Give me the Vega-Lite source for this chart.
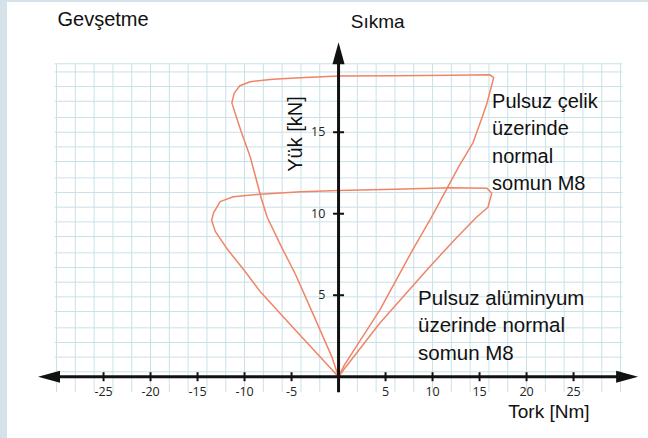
{
  "$schema": "https://vega.github.io/schema/vega-lite/v6.json",
  "width": 641,
  "height": 436,
  "autosize": {"type": "none"},
  "padding": {"left": 7, "top": 2, "right": 0, "bottom": 0},
  "background": "#d6e2ea",
  "config": {"view": {"fill": "white", "stroke": null}},
  "datasets": {
    "vgrid": [
      {"x": -30}, {"x": -28}, {"x": -26}, {"x": -24}, {"x": -22}, {"x": -20}, {"x": -18}, {"x": -16},
      {"x": -14}, {"x": -12}, {"x": -10}, {"x": -8}, {"x": -6}, {"x": -4}, {"x": -2}, {"x": 0},
      {"x": 2}, {"x": 4}, {"x": 6}, {"x": 8}, {"x": 10}, {"x": 12}, {"x": 14}, {"x": 16},
      {"x": 18}, {"x": 20}, {"x": 22}, {"x": 24}, {"x": 26}, {"x": 28}, {"x": 30}
    ],
    "hgrid": [
      {"y": 19.2}, {"y": 18.7}, {"y": 17.8}, {"y": 16.9}, {"y": 15.9}, {"y": 15.0}, {"y": 14.1},
      {"y": 13.2}, {"y": 12.2}, {"y": 11.3}, {"y": 10.4}, {"y": 9.5}, {"y": 8.6}, {"y": 7.6},
      {"y": 6.7}, {"y": 5.8}, {"y": 4.9}, {"y": 4.0}, {"y": 3.0}, {"y": 2.1}, {"y": 1.2}, {"y": 0.3}
    ],
    "curves": [
      {"s": "steel", "o": 0, "x": 0, "y": 0},
      {"s": "steel", "o": 1, "x": 0.6, "y": 0.7},
      {"s": "steel", "o": 2, "x": 4.4, "y": 4.1},
      {"s": "steel", "o": 3, "x": 7.9, "y": 7.8},
      {"s": "steel", "o": 4, "x": 9.8, "y": 9.7},
      {"s": "steel", "o": 5, "x": 11.3, "y": 11.3},
      {"s": "steel", "o": 6, "x": 12.8, "y": 12.9},
      {"s": "steel", "o": 7, "x": 14.3, "y": 14.35},
      {"s": "steel", "o": 8, "x": 15.2, "y": 15.8},
      {"s": "steel", "o": 9, "x": 15.8, "y": 16.8},
      {"s": "steel", "o": 10, "x": 16.3, "y": 17.9},
      {"s": "steel", "o": 11, "x": 16.5, "y": 18.35},
      {"s": "steel", "o": 12, "x": 16.1, "y": 18.52},
      {"s": "steel", "o": 13, "x": 12, "y": 18.5},
      {"s": "steel", "o": 14, "x": 6, "y": 18.47},
      {"s": "steel", "o": 15, "x": 0, "y": 18.45},
      {"s": "steel", "o": 16, "x": -4.1, "y": 18.35},
      {"s": "steel", "o": 17, "x": -7, "y": 18.25},
      {"s": "steel", "o": 18, "x": -9.4, "y": 18.1},
      {"s": "steel", "o": 19, "x": -10.5, "y": 17.85},
      {"s": "steel", "o": 20, "x": -11.1, "y": 17.4},
      {"s": "steel", "o": 21, "x": -11.35, "y": 16.8},
      {"s": "steel", "o": 22, "x": -10.4, "y": 15.1},
      {"s": "steel", "o": 23, "x": -9.4, "y": 13.5},
      {"s": "steel", "o": 24, "x": -8.2, "y": 10.9},
      {"s": "steel", "o": 25, "x": -7.6, "y": 9.8},
      {"s": "steel", "o": 26, "x": -6.1, "y": 8.0},
      {"s": "steel", "o": 27, "x": -4.6, "y": 6.3},
      {"s": "steel", "o": 28, "x": -2.6, "y": 3.7},
      {"s": "steel", "o": 29, "x": -0.7, "y": 1.2},
      {"s": "steel", "o": 30, "x": 0, "y": 0},
      {"s": "alu", "o": 0, "x": 0, "y": 0},
      {"s": "alu", "o": 1, "x": 0.5, "y": 0.4},
      {"s": "alu", "o": 2, "x": 4.4, "y": 3.3},
      {"s": "alu", "o": 3, "x": 9.7, "y": 6.75},
      {"s": "alu", "o": 4, "x": 12.5, "y": 8.5},
      {"s": "alu", "o": 5, "x": 14.7, "y": 9.8},
      {"s": "alu", "o": 6, "x": 15.9, "y": 10.4},
      {"s": "alu", "o": 7, "x": 16.1, "y": 10.84},
      {"s": "alu", "o": 8, "x": 16.3, "y": 11.25},
      {"s": "alu", "o": 9, "x": 15.8, "y": 11.56},
      {"s": "alu", "o": 10, "x": 12, "y": 11.6},
      {"s": "alu", "o": 11, "x": 6, "y": 11.5},
      {"s": "alu", "o": 12, "x": 0, "y": 11.42},
      {"s": "alu", "o": 13, "x": -4, "y": 11.35},
      {"s": "alu", "o": 14, "x": -8.35, "y": 11.2},
      {"s": "alu", "o": 15, "x": -11.2, "y": 11.04},
      {"s": "alu", "o": 16, "x": -12.6, "y": 10.74},
      {"s": "alu", "o": 17, "x": -13.3, "y": 10.05},
      {"s": "alu", "o": 18, "x": -13.5, "y": 9.6},
      {"s": "alu", "o": 19, "x": -13.1, "y": 8.9},
      {"s": "alu", "o": 20, "x": -11.8, "y": 7.8},
      {"s": "alu", "o": 21, "x": -10, "y": 6.5},
      {"s": "alu", "o": 22, "x": -8.2, "y": 5.13},
      {"s": "alu", "o": 23, "x": -4.6, "y": 2.87},
      {"s": "alu", "o": 24, "x": -0.4, "y": 0.25},
      {"s": "alu", "o": 25, "x": 0, "y": 0}
    ],
    "xticks": [
      {"x": -25, "label": "-25"}, {"x": -20, "label": "-20"}, {"x": -15, "label": "-15"},
      {"x": -10, "label": "-10"}, {"x": -5, "label": "-5"}, {"x": 5, "label": "5"},
      {"x": 10, "label": "10"}, {"x": 15, "label": "15"}, {"x": 20, "label": "20"}, {"x": 25, "label": "25"}
    ],
    "yticks": [
      {"y": 5, "label": "5"}, {"y": 10, "label": "10"}, {"y": 15, "label": "15"}
    ]
  },
  "layer": [
    {
      "data": {"name": "vgrid"},
      "mark": {"type": "rule", "color": "#c9e1e8", "strokeWidth": 1},
      "encoding": {
        "x": {"field": "x", "type": "quantitative", "scale": {"domain": [-35.27, 32.92], "nice": false, "zero": false}, "axis": null},
        "y": {"datum": -0.95, "type": "quantitative", "scale": {"domain": [-3.76, 22.99], "nice": false, "zero": false}, "axis": null},
        "y2": {"datum": 19.2}
      }
    },
    {
      "data": {"name": "hgrid"},
      "mark": {"type": "rule", "color": "#c9e1e8", "strokeWidth": 1},
      "encoding": {
        "x": {"datum": -30.2, "type": "quantitative", "scale": {"domain": [-35.27, 32.92], "nice": false, "zero": false}, "axis": null},
        "x2": {"datum": 30.2},
        "y": {"field": "y", "type": "quantitative", "scale": {"domain": [-3.76, 22.99], "nice": false, "zero": false}, "axis": null}
      }
    },
    {
      "data": {"name": "curves"},
      "mark": {"type": "line", "color": "#f08466", "strokeWidth": 1.5, "strokeJoin": "round"},
      "encoding": {
        "x": {"field": "x", "type": "quantitative", "scale": {"domain": [-35.27, 32.92], "nice": false, "zero": false}, "axis": null},
        "y": {"field": "y", "type": "quantitative", "scale": {"domain": [-3.76, 22.99], "nice": false, "zero": false}, "axis": null},
        "order": {"field": "o", "type": "quantitative"},
        "detail": {"field": "s"}
      }
    },
    {
      "data": {"values": [{}]},
      "mark": {"type": "rule", "color": "#111111", "strokeWidth": 3},
      "encoding": {
        "x": {"datum": -30.8, "type": "quantitative", "scale": {"domain": [-35.27, 32.92], "nice": false, "zero": false}, "axis": null},
        "x2": {"datum": 30.7},
        "y": {"datum": 0, "type": "quantitative", "scale": {"domain": [-3.76, 22.99], "nice": false, "zero": false}, "axis": null}
      }
    },
    {
      "data": {"values": [{}]},
      "mark": {"type": "rule", "color": "#111111", "strokeWidth": 3},
      "encoding": {
        "x": {"datum": 0, "type": "quantitative", "scale": {"domain": [-35.27, 32.92], "nice": false, "zero": false}, "axis": null},
        "y": {"datum": -0.95, "type": "quantitative", "scale": {"domain": [-3.76, 22.99], "nice": false, "zero": false}, "axis": null},
        "y2": {"datum": 19.85}
      }
    },
    {
      "data": {"values": [{}]},
      "mark": {"type": "point", "shape": "M0,-1L0.55,1L-0.55,1Z", "size": 484, "filled": true, "color": "#111111", "opacity": 1},
      "encoding": {
        "x": {"datum": 0, "type": "quantitative", "scale": {"domain": [-35.27, 32.92], "nice": false, "zero": false}, "axis": null},
        "y": {"datum": 19.85, "type": "quantitative", "scale": {"domain": [-3.76, 22.99], "nice": false, "zero": false}, "axis": null}
      }
    },
    {
      "data": {"values": [{}]},
      "mark": {"type": "point", "shape": "M-1,0L1,-0.55L1,0.55Z", "size": 484, "filled": true, "color": "#111111", "opacity": 1},
      "encoding": {
        "x": {"datum": -30.8, "type": "quantitative", "scale": {"domain": [-35.27, 32.92], "nice": false, "zero": false}, "axis": null},
        "y": {"datum": 0, "type": "quantitative", "scale": {"domain": [-3.76, 22.99], "nice": false, "zero": false}, "axis": null}
      }
    },
    {
      "data": {"values": [{}]},
      "mark": {"type": "point", "shape": "M1,0L-1,-0.55L-1,0.55Z", "size": 484, "filled": true, "color": "#111111", "opacity": 1},
      "encoding": {
        "x": {"datum": 30.7, "type": "quantitative", "scale": {"domain": [-35.27, 32.92], "nice": false, "zero": false}, "axis": null},
        "y": {"datum": 0, "type": "quantitative", "scale": {"domain": [-3.76, 22.99], "nice": false, "zero": false}, "axis": null}
      }
    },
    {
      "data": {"name": "xticks"},
      "mark": {"type": "tick", "orient": "vertical", "size": 9, "thickness": 2, "color": "#111111", "opacity": 1},
      "encoding": {
        "x": {"field": "x", "type": "quantitative", "scale": {"domain": [-35.27, 32.92], "nice": false, "zero": false}, "axis": null},
        "y": {"datum": 0, "type": "quantitative", "scale": {"domain": [-3.76, 22.99], "nice": false, "zero": false}, "axis": null}
      }
    },
    {
      "data": {"name": "yticks"},
      "mark": {"type": "tick", "orient": "horizontal", "size": 11, "thickness": 2, "color": "#111111", "opacity": 1},
      "encoding": {
        "x": {"datum": 0, "type": "quantitative", "scale": {"domain": [-35.27, 32.92], "nice": false, "zero": false}, "axis": null},
        "y": {"field": "y", "type": "quantitative", "scale": {"domain": [-3.76, 22.99], "nice": false, "zero": false}, "axis": null}
      }
    },
    {
      "data": {"name": "xticks"},
      "mark": {"type": "text", "font": "Open Sans", "fontSize": 12.5, "color": "#222222", "align": "center", "baseline": "middle"},
      "encoding": {
        "x": {"field": "x", "type": "quantitative", "scale": {"domain": [-35.27, 32.92], "nice": false, "zero": false}, "axis": null},
        "y": {"datum": -0.95, "type": "quantitative", "scale": {"domain": [-3.76, 22.99], "nice": false, "zero": false}, "axis": null},
        "text": {"field": "label"}
      }
    },
    {
      "data": {"name": "yticks"},
      "mark": {"type": "text", "font": "Open Sans", "fontSize": 12.5, "color": "#222222", "align": "right", "baseline": "middle"},
      "encoding": {
        "x": {"datum": -1.4, "type": "quantitative", "scale": {"domain": [-35.27, 32.92], "nice": false, "zero": false}, "axis": null},
        "y": {"field": "y", "type": "quantitative", "scale": {"domain": [-3.76, 22.99], "nice": false, "zero": false}, "axis": null},
        "text": {"field": "label"}
      }
    },
    {
      "data": {"values": [{}]},
      "mark": {"type": "text", "text": "Gevşetme", "font": "Liberation Sans", "fontSize": 20, "color": "#111111", "align": "left", "baseline": "alphabetic"},
      "encoding": {
        "x": {"datum": -29.9, "type": "quantitative", "scale": {"domain": [-35.27, 32.92], "nice": false, "zero": false}, "axis": null},
        "y": {"datum": 21.5, "type": "quantitative", "scale": {"domain": [-3.76, 22.99], "nice": false, "zero": false}, "axis": null}
      }
    },
    {
      "data": {"values": [{}]},
      "mark": {"type": "text", "text": "Sıkma", "font": "Liberation Sans", "fontSize": 19, "color": "#111111", "align": "left", "baseline": "alphabetic"},
      "encoding": {
        "x": {"datum": 1.3, "type": "quantitative", "scale": {"domain": [-35.27, 32.92], "nice": false, "zero": false}, "axis": null},
        "y": {"datum": 21.4, "type": "quantitative", "scale": {"domain": [-3.76, 22.99], "nice": false, "zero": false}, "axis": null}
      }
    },
    {
      "data": {"values": [{}]},
      "mark": {"type": "text", "text": "Yük [kN]", "font": "Liberation Sans", "fontSize": 20, "color": "#111111", "align": "center", "baseline": "middle", "angle": 270},
      "encoding": {
        "x": {"datum": -4.5, "type": "quantitative", "scale": {"domain": [-35.27, 32.92], "nice": false, "zero": false}, "axis": null},
        "y": {"datum": 14.89, "type": "quantitative", "scale": {"domain": [-3.76, 22.99], "nice": false, "zero": false}, "axis": null}
      }
    },
    {
      "data": {"values": [{}]},
      "mark": {"type": "text", "text": "Tork [Nm]", "font": "Liberation Sans", "fontSize": 19, "color": "#111111", "align": "right", "baseline": "alphabetic"},
      "encoding": {
        "x": {"datum": 26.7, "type": "quantitative", "scale": {"domain": [-35.27, 32.92], "nice": false, "zero": false}, "axis": null},
        "y": {"datum": -2.55, "type": "quantitative", "scale": {"domain": [-3.76, 22.99], "nice": false, "zero": false}, "axis": null}
      }
    },
    {
      "data": {"values": [{}]},
      "mark": {"type": "text", "text": ["Pulsuz çelik", "üzerinde", "normal", "somun M8"], "font": "Liberation Sans", "fontSize": 20, "lineHeight": 27.5, "color": "#111111", "align": "left", "baseline": "alphabetic"},
      "encoding": {
        "x": {"datum": 16.33, "type": "quantitative", "scale": {"domain": [-35.27, 32.92], "nice": false, "zero": false}, "axis": null},
        "y": {"datum": 16.5, "type": "quantitative", "scale": {"domain": [-3.76, 22.99], "nice": false, "zero": false}, "axis": null}
      }
    },
    {
      "data": {"values": [{}]},
      "mark": {"type": "text", "text": ["Pulsuz alüminyum", "üzerinde normal", "somun M8"], "font": "Liberation Sans", "fontSize": 20.5, "lineHeight": 27.5, "color": "#111111", "align": "left", "baseline": "alphabetic"},
      "encoding": {
        "x": {"datum": 8.46, "type": "quantitative", "scale": {"domain": [-35.27, 32.92], "nice": false, "zero": false}, "axis": null},
        "y": {"datum": 4.4, "type": "quantitative", "scale": {"domain": [-3.76, 22.99], "nice": false, "zero": false}, "axis": null}
      }
    }
  ]
}
